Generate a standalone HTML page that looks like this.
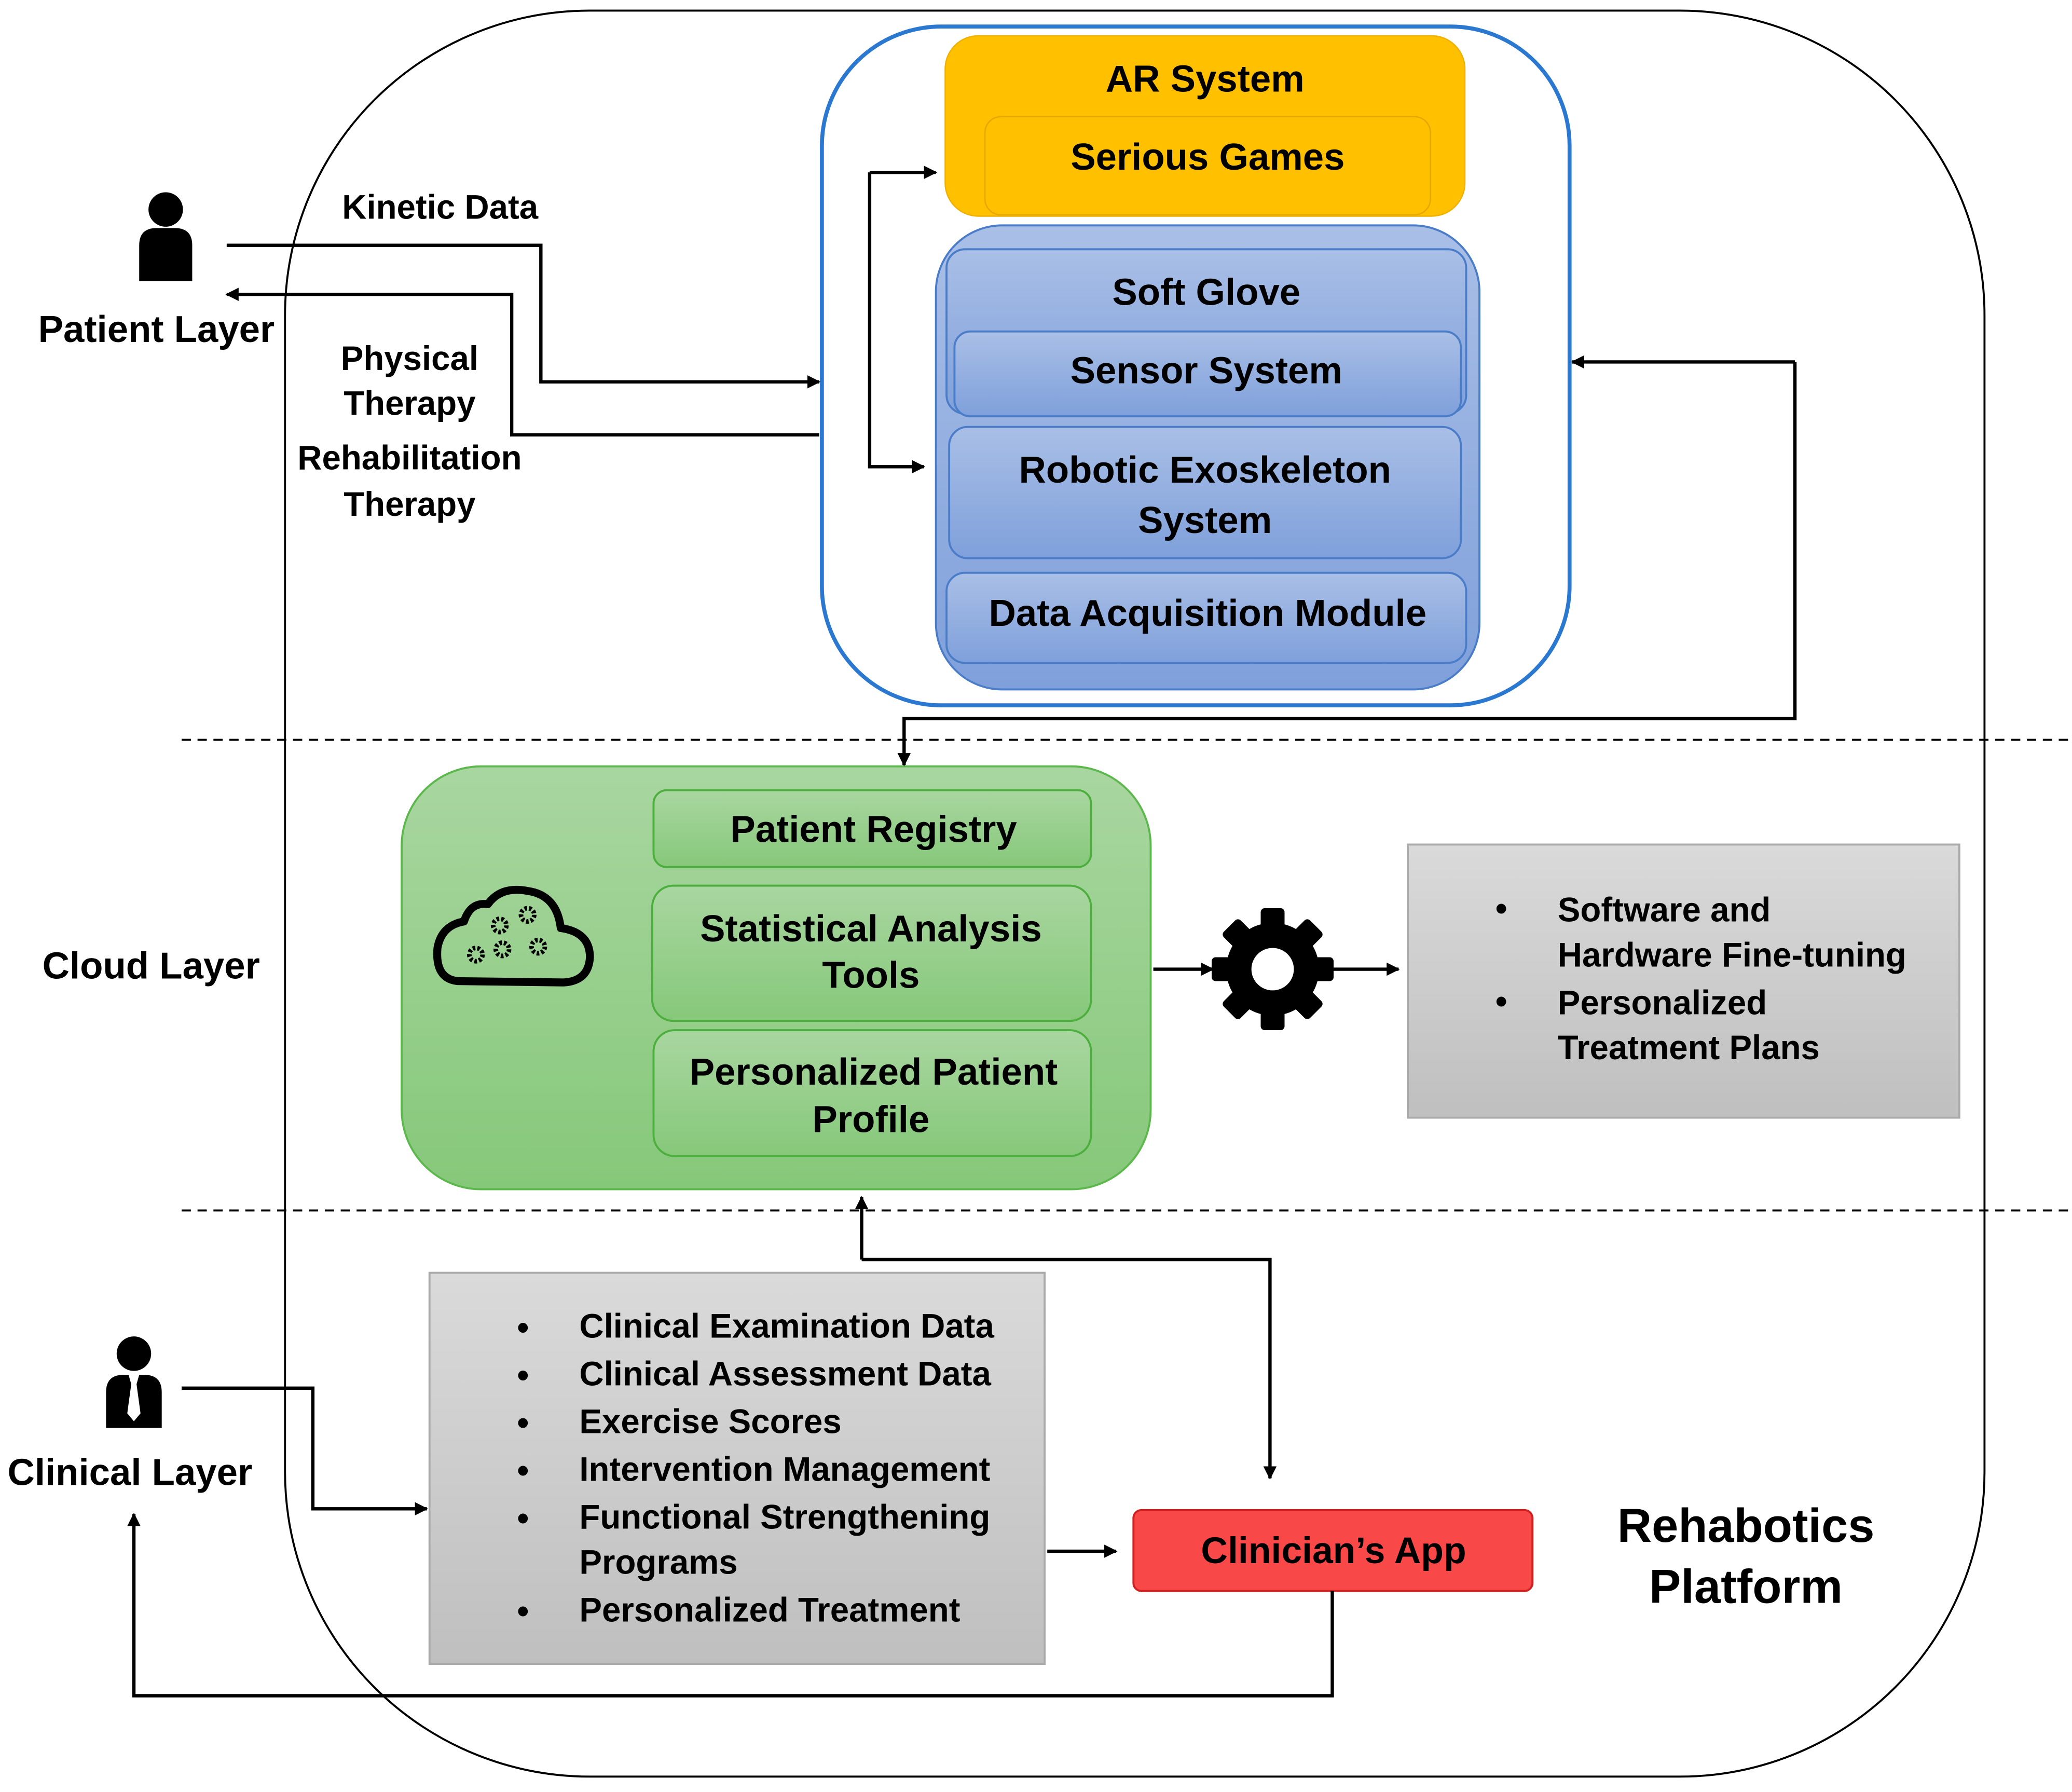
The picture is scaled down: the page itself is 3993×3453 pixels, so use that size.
<!DOCTYPE html>
<html><head><meta charset="utf-8"><style>html,body{margin:0;padding:0;background:#fff}svg{display:block}text{font-family:"Liberation Sans",Arial,sans-serif;font-weight:bold;fill:#000}</style></head>
<body>
<svg width="3993" height="3453" viewBox="0 0 1563 1351.6" xmlns="http://www.w3.org/2000/svg">
<defs>
<marker id="ah" markerWidth="10" markerHeight="10" refX="9" refY="5" orient="auto" markerUnits="userSpaceOnUse"><path d="M0,0 L10,5 L0,10 z" fill="#000"/></marker>
<linearGradient id="gb" x1="0" y1="0" x2="0" y2="1"><stop offset="0" stop-color="#a9bfe6"/><stop offset="1" stop-color="#7fa0db"/></linearGradient>
<linearGradient id="gg" x1="0" y1="0" x2="0" y2="1"><stop offset="0" stop-color="#a9d6a0"/><stop offset="1" stop-color="#86c87a"/></linearGradient>
<linearGradient id="gy" x1="0" y1="0" x2="0" y2="1"><stop offset="0" stop-color="#dadada"/><stop offset="1" stop-color="#bfbfbf"/></linearGradient>
</defs>
<rect x="215" y="8" width="1282" height="1332" rx="230" fill="none" stroke="#000" stroke-width="1.5"/>
<line x1="137" y1="558" x2="1563" y2="558" stroke="#000" stroke-width="1.5" stroke-dasharray="7,5"/>
<line x1="137" y1="913" x2="1563" y2="913" stroke="#000" stroke-width="1.5" stroke-dasharray="7,5"/>
<rect x="620" y="20" width="564" height="512" rx="90" fill="#fff" stroke="#2a78d0" stroke-width="3"/>
<rect x="713" y="27" width="392" height="136" rx="25" fill="#FFC000" stroke="#f0b000"/>
<rect x="743" y="88" width="336" height="74" rx="12" fill="#FFC000" stroke="#e6a800"/>
<text x="909" y="69" font-size="28.4" text-anchor="middle">AR System</text>
<text x="911" y="128" font-size="28.4" text-anchor="middle">Serious Games</text>
<rect x="706" y="170" width="410" height="350" rx="50" fill="url(#gb)" stroke="#4a7cc8" stroke-width="1.5"/>
<rect x="714" y="188" width="392" height="124" rx="14" fill="url(#gb)" stroke="#4a7cc8" stroke-width="1.5"/>
<rect x="720" y="250" width="382" height="64" rx="12" fill="url(#gb)" stroke="#4a7cc8" stroke-width="1.5"/>
<rect x="716" y="322" width="386" height="99" rx="14" fill="url(#gb)" stroke="#4a7cc8" stroke-width="1.5"/>
<rect x="714" y="432" width="392" height="68" rx="14" fill="url(#gb)" stroke="#4a7cc8" stroke-width="1.5"/>
<text x="910" y="230" font-size="28.4" text-anchor="middle">Soft Glove</text>
<text x="910" y="289" font-size="28.4" text-anchor="middle">Sensor System</text>
<text x="909" y="364" font-size="28.4" text-anchor="middle">Robotic Exoskeleton</text>
<text x="909" y="402" font-size="28.4" text-anchor="middle">System</text>
<text x="911" y="472" font-size="28.4" text-anchor="middle">Data Acquisition Module</text>
<rect x="303" y="578" width="565" height="319" rx="60" fill="url(#gg)" stroke="#5cb84c" stroke-width="1.5"/>
<rect x="493" y="596" width="330" height="58" rx="10" fill="url(#gg)" stroke="#4cae3c" stroke-width="1.5"/>
<rect x="492" y="668" width="331" height="102" rx="16" fill="url(#gg)" stroke="#4cae3c" stroke-width="1.5"/>
<rect x="493" y="777" width="330" height="95" rx="16" fill="url(#gg)" stroke="#4cae3c" stroke-width="1.5"/>
<text x="659" y="635" font-size="28.4" text-anchor="middle">Patient Registry</text>
<text x="657" y="710" font-size="28.4" text-anchor="middle">Statistical Analysis</text>
<text x="657" y="745" font-size="28.4" text-anchor="middle">Tools</text>
<text x="659" y="818" font-size="28.4" text-anchor="middle">Personalized Patient</text>
<text x="657" y="854" font-size="28.4" text-anchor="middle">Profile</text>
<path d="M345,740 Q328,738 330,715 Q333,698 350,695 Q355,680 368,682 Q378,668 398,672 Q420,675 423,700 Q445,703 445,722 Q444,740 425,741 Z" fill="none" stroke="#000" stroke-width="6" stroke-linejoin="round"/>
<g fill="none" stroke="#000" stroke-width="3.5" stroke-dasharray="2,1.5">
<circle cx="377" cy="698" r="5"/><circle cx="398" cy="690" r="5"/><circle cx="359" cy="720" r="5"/><circle cx="379" cy="716" r="5"/><circle cx="406" cy="714" r="5"/></g>
<g transform="translate(960,731)">
<g fill="#000"><circle r="35"/>
<rect x="-9" y="-46" width="18" height="92" rx="3"/>
<rect x="-9" y="-46" width="18" height="92" rx="3" transform="rotate(45)"/>
<rect x="-9" y="-46" width="18" height="92" rx="3" transform="rotate(90)"/>
<rect x="-9" y="-46" width="18" height="92" rx="3" transform="rotate(135)"/></g>
<circle r="16" fill="#fff"/></g>
<rect x="1062" y="637" width="416" height="206" fill="url(#gy)" stroke="#aaa" stroke-width="1.5"/>
<g font-size="25.6"><text x="1128" y="694">•</text><text x="1175" y="695">Software and</text><text x="1175" y="729">Hardware Fine-tuning</text>
<text x="1128" y="764">•</text><text x="1175" y="765">Personalized</text><text x="1175" y="799">Treatment Plans</text></g>
<rect x="324" y="960" width="464" height="295" fill="url(#gy)" stroke="#aaa" stroke-width="1.5"/>
<g font-size="25.6"><text x="390" y="1010">•</text><text x="437" y="1009">Clinical Examination Data</text>
<text x="390" y="1046">•</text><text x="437" y="1045">Clinical Assessment Data</text>
<text x="390" y="1082">•</text><text x="437" y="1081">Exercise Scores</text>
<text x="390" y="1118">•</text><text x="437" y="1117">Intervention Management</text>
<text x="390" y="1154">•</text><text x="437" y="1153">Functional Strengthening</text>
<text x="437" y="1187">Programs</text>
<text x="390" y="1224">•</text><text x="437" y="1223">Personalized Treatment</text></g>
<rect x="855" y="1139" width="301" height="61" rx="6" fill="#f84848" stroke="#d02020" stroke-width="1.5"/>
<text x="1006" y="1179" font-size="28" text-anchor="middle">Clinician’s App</text>
<text x="1317" y="1163" font-size="36" text-anchor="middle">Rehabotics</text>
<text x="1317" y="1209" font-size="36" text-anchor="middle">Platform</text>
<g fill="#000"><circle cx="125" cy="158" r="13"/><path d="M105,212 L105,185 Q105,172 118,172 L132,172 Q145,172 145,185 L145,212 Z"/>
<circle cx="101" cy="1021" r="13"/><path d="M80,1077 L80,1050 Q80,1037 93,1037 L109,1037 Q122,1037 122,1050 L122,1077 Z"/></g>
<path d="M97,1037 L105,1037 L103,1044 L106,1066 L101,1072 L96,1066 L99,1044 Z" fill="#fff"/>
<text x="118" y="258" font-size="28.4" text-anchor="middle">Patient Layer</text>
<text x="114" y="738" font-size="28.4" text-anchor="middle">Cloud Layer</text>
<text x="98" y="1120" font-size="28.4" text-anchor="middle">Clinical Layer</text>
<g font-size="25.6" text-anchor="middle"><text x="332" y="165">Kinetic Data</text>
<text x="309" y="279">Physical</text><text x="309" y="313">Therapy</text>
<text x="309" y="354">Rehabilitation</text><text x="309" y="389">Therapy</text></g>
<g fill="none" stroke="#000" stroke-width="2.5" marker-end="url(#ah)">
<path d="M171,185 H408 V288 H618"/>
<path d="M618,328 H386 V222 H171"/>
<path d="M656,130 H706"/>
<path d="M656,130 V352 H697"/>
<path d="M1354,273 H1186"/>
<path d="M1354,273 V542 H682 V577"/>
<path d="M870,731 H915"/>
<path d="M1005,731 H1055"/>
<path d="M137,1047 H236 V1138 H322"/>
<path d="M650,950 H958 V1115"/>
<path d="M650,950 V903"/>
<path d="M790,1170 H842"/>
<path d="M1005,1200 V1279 H101 V1142"/>
</g>
</svg>
</body></html>
